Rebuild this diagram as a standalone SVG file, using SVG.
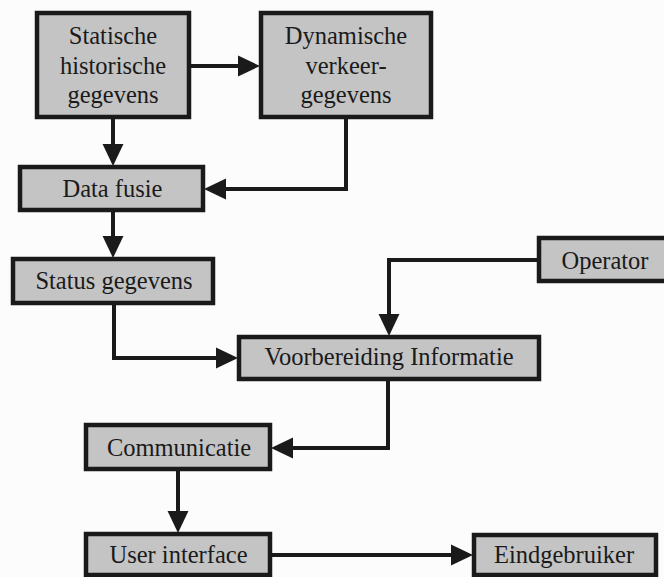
<svg xmlns="http://www.w3.org/2000/svg" width="664" height="577" viewBox="0 0 664 577">
  <style>
    .box { fill: #c4c4c4; stroke: #1a1a1a; stroke-width: 4.5; }
    .lbl { font-size: 24.5px; fill: #1a1a1a; text-anchor: middle; }
    .con { fill: none; stroke: #1a1a1a; stroke-width: 4; stroke-linejoin: miter; }
  </style>
  <defs>
    <marker id="arr" markerUnits="userSpaceOnUse" markerWidth="22" markerHeight="22" viewBox="0 0 20 19" refX="10" refY="9.5" orient="auto">
      <path d="M0,0 L20,9.5 L0,19 z" fill="#1a1a1a"/>
    </marker>
  </defs>
  <rect x="0" y="0" width="664" height="577" fill="#fcfcfc"/>

  <g id="connectors">
    <path class="con" marker-end="url(#arr)" d="M191,66 H249"/>
    <path class="con" marker-end="url(#arr)" d="M113,119 V155"/>
    <path class="con" marker-end="url(#arr)" d="M346,119 V189 H215"/>
    <path class="con" marker-end="url(#arr)" d="M113,212 V247"/>
    <path class="con" marker-end="url(#arr)" d="M114,305 V358 H227"/>
    <path class="con" marker-end="url(#arr)" d="M537,260 H389 V325"/>
    <path class="con" marker-end="url(#arr)" d="M388,381 V448 H282"/>
    <path class="con" marker-end="url(#arr)" d="M178,471 V522"/>
    <path class="con" marker-end="url(#arr)" d="M272,555 H462"/>
  </g>

  <g id="nodes" font-family="'Liberation Serif', 'DejaVu Serif', serif">
  <g id="statische">
    <rect class="box" x="37" y="13" width="152" height="104"/>
    <text class="lbl" x="113" y="44">Statische</text>
    <text class="lbl" x="113" y="74">historische</text>
    <text class="lbl" x="113" y="103">gegevens</text>
  </g>
  <g id="dynamische">
    <rect class="box" x="261" y="13" width="170" height="104"/>
    <text class="lbl" x="346" y="44">Dynamische</text>
    <text class="lbl" x="346" y="74">verkeer-</text>
    <text class="lbl" x="346" y="103">gegevens</text>
  </g>
  <g id="datafusie">
    <rect class="box" x="20" y="167" width="183" height="43"/>
    <text class="lbl" x="112.5" y="197">Data fusie</text>
  </g>
  <g id="status">
    <rect class="box" x="13" y="259" width="200" height="44"/>
    <text class="lbl" x="114" y="289">Status gegevens</text>
  </g>
  <g id="operator">
    <rect class="box" x="539" y="238" width="140" height="43"/>
    <text class="lbl" x="605" y="269">Operator</text>
  </g>
  <g id="voorbereiding">
    <rect class="box" x="239" y="337" width="300" height="42"/>
    <text class="lbl" x="389" y="365">Voorbereiding Informatie</text>
  </g>
  <g id="communicatie">
    <rect class="box" x="86" y="425" width="184" height="44"/>
    <text class="lbl" x="179" y="456">Communicatie</text>
  </g>
  <g id="userinterface">
    <rect class="box" x="86" y="534" width="184" height="41"/>
    <text class="lbl" x="178.5" y="563">User interface</text>
  </g>
  <g id="eindgebruiker">
    <rect class="box" x="474" y="535" width="182" height="40"/>
    <text class="lbl" x="564" y="563">Eindgebruiker</text>
  </g>
  </g>
</svg>
